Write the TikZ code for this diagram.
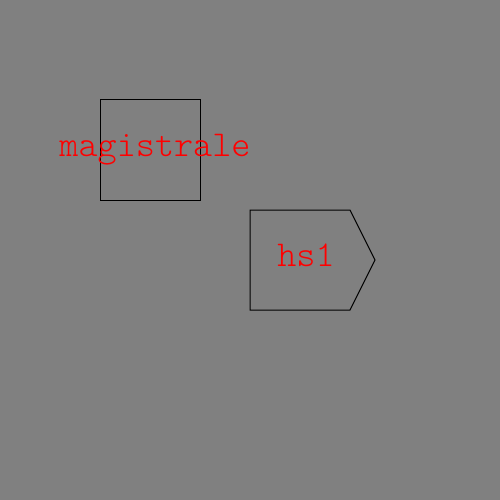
\documentclass[tikz,border=0pt]{standalone}
\usepackage{fontspec}
\setmonofont{Latin Modern Mono Light}
\usetikzlibrary{positioning}
\definecolor{bggray}{RGB}{128,128,128}

\begin{document}
\begin{tikzpicture}[x=1pt, y=-1pt, line width=1pt,
    lbl/.style={text=red, font=\ttfamily\fontsize{36.4}{36.4}\selectfont, inner sep=0pt, anchor=base}]
        \fill[bggray] (0,0) rectangle (500,500);
        \useasboundingbox (0,0) rectangle (500,500);

        \node[rectangle, draw, minimum size=100pt, inner sep=0pt] (magbox) at (150,150) {};
        \draw (250,210) coordinate (h1) -- (350,210) coordinate (h2) -- (375,260) coordinate (htip)
              -- (350,310) coordinate (h3) -- (250,310) coordinate (h4) -- cycle;

        \node[lbl] (maglabel) at (155,156) {magistrale};
        \node[lbl] (hslabel) at (306,266) {hs1};
    \end{tikzpicture}
\end{document}
